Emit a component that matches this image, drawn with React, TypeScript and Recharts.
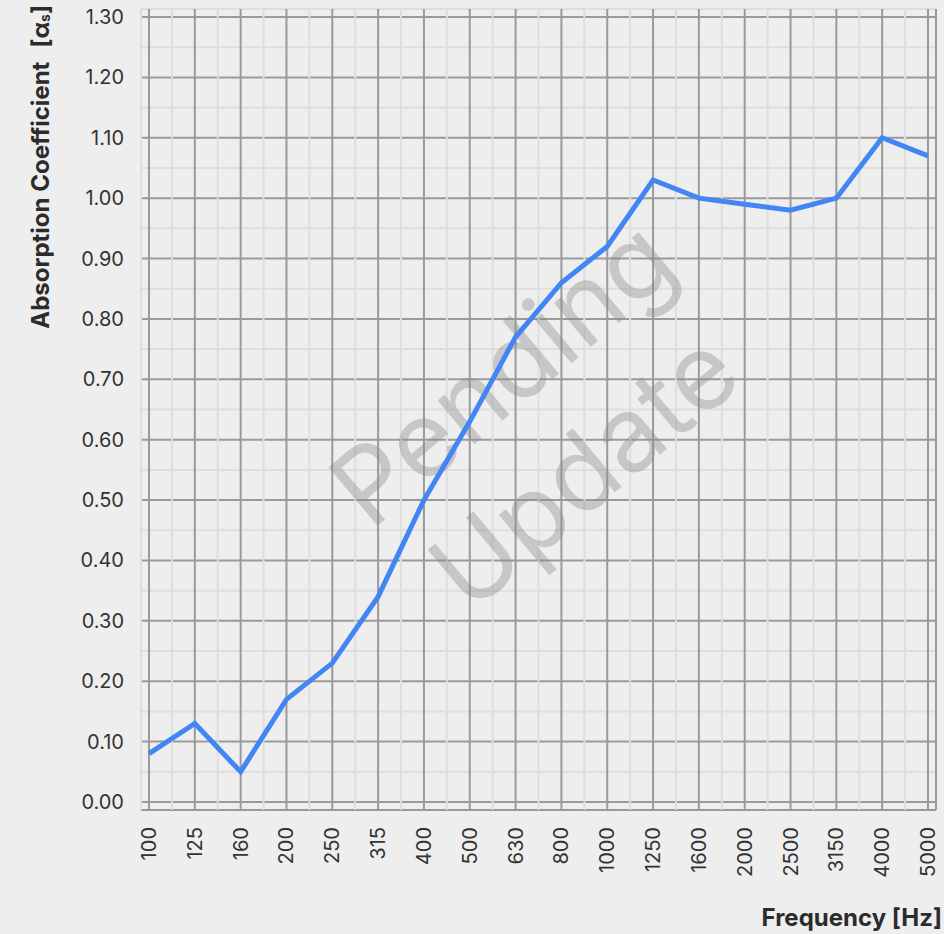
import React from 'react';
import { LineChart, Line, XAxis, YAxis, CartesianGrid, Label, ReferenceArea } from 'recharts';

const frequencies = ['100', '125', '160', '200', '250', '315', '400', '500', '630', '800', '1000', '1250', '1600', '2000', '2500', '3150', '4000', '5000'];
const absorption = [0.08, 0.13, 0.05, 0.17, 0.23, 0.34, 0.5, 0.63, 0.77, 0.86, 0.92, 1.03, 1.0, 0.99, 0.98, 1.0, 1.1, 1.07];
const yMajorTicks = [0, 0.1, 0.2, 0.3, 0.4, 0.5, 0.6, 0.7, 0.8, 0.9, 1.0, 1.1, 1.2, 1.3];
const yMinorStep = 0.05;
const xMinorStep = 0.5;

const data = frequencies.map((f, i) => ({ idx: i, freq: f, value: absorption[i] }));

const yTicks: number[] = [];
for (let i = 0; i <= Math.round(1.3 / yMinorStep); i++) yTicks.push(Math.round(i * yMinorStep * 100) / 100);
const xTicks: number[] = [];
for (let i = 0; i <= (frequencies.length - 1) / xMinorStep; i++) xTicks.push(i * xMinorStep);

const FONT = 'Inter, "Noto Sans", sans-serif';
const MAJOR = '#9a9a9a';
const MINOR = '#dedede';

const isMajorY = (v: number) => yMajorTicks.some((t) => Math.abs(t - v) < 1e-6);

const YTick = (props: any) => {
  const { x, y, payload } = props;
  if (!isMajorY(payload.value)) return <g />;
  return (
    <text x={x} y={y} textAnchor="end" dominantBaseline="central" fontFamily={FONT} fontSize={20} fill="#333">
      {payload.value.toFixed(2)}
    </text>
  );
};

const XTick = (props: any) => {
  const { x, y, payload } = props;
  if (!Number.isInteger(payload.value)) return <g />;
  return (
    <text x={x} y={y} transform={`rotate(-90, ${x}, ${y})`} textAnchor="end" dominantBaseline="central" fontFamily={FONT} fontSize={20} fill="#333">
      {frequencies[payload.value]}
    </text>
  );
};

const gridLine = (props: any) => {
  const { x1, y1, x2, y2, index } = props;
  const major = index % 2 === 0;
  return <line key={`l-${x1}-${y1}-${index}`} x1={x1} y1={y1} x2={x2} y2={y2} stroke={major ? MAJOR : MINOR} strokeWidth={2} />;
};

const XLabel = (props: any) => {
  const { viewBox } = props;
  return (
    <text x={viewBox.x + viewBox.width + 6} y={viewBox.y + viewBox.height - 17} textAnchor="end" dominantBaseline="central" fontFamily={FONT} fontSize={24} fontWeight={700} fill="#2b2b2b">
      Frequency [Hz]
    </text>
  );
};

const YLabel = () => {
  const cx = 40;
  const cy = 5;
  return (
    <text x={cx} y={cy} transform={`rotate(-90, ${cx}, ${cy})`} textAnchor="end" dominantBaseline="central" fontFamily={FONT} fontSize={24} fontWeight={700} fill="#2b2b2b">
      <tspan>Absorption Coefficient</tspan>
      <tspan dx={14}>[</tspan>
      <tspan>α</tspan>
      <tspan fontSize={14} dy={4}>s</tspan>
      <tspan dy={-4}>]</tspan>
    </text>
  );
};

const Watermark = (props: any) => {
  const { viewBox } = props;
  const cx = viewBox.x + viewBox.width / 2 + 28;
  const cy = viewBox.y + viewBox.height / 2 + 40;
  return (
    <text transform={`rotate(-40, ${cx}, ${cy})`} x={cx} y={cy} textAnchor="middle" fontFamily={FONT} fontSize={105} fill="rgba(140,140,140,0.4)">
      <tspan x={cx} y={cy - 63}>Pending</tspan>
      <tspan x={cx} y={cy + 64}>Update</tspan>
    </text>
  );
};

export default function App() {
  return (
    <div style={{ position: 'absolute', left: 0, top: 0, width: 944, height: 934, background: '#eeeeee' }}>
      <LineChart width={944} height={934} data={data} margin={{ top: 9, right: 8, bottom: 0, left: 0 }}>
        <CartesianGrid horizontal={gridLine} vertical={gridLine} />
        <XAxis
          dataKey="idx"
          type="number"
          domain={[0, frequencies.length - 1]}
          ticks={xTicks}
          interval={0}
          padding={{ left: 8, right: 8 }}
          axisLine={false}
          tickLine={false}
          tickSize={0}
          tickMargin={17}
          height={124}
          tick={<XTick />}
        >
          <Label content={<XLabel />} />
        </XAxis>
        <YAxis
          type="number"
          domain={[0, 1.3]}
          ticks={yTicks}
          interval={0}
          padding={{ top: 8, bottom: 8 }}
          axisLine={false}
          tickLine={false}
          tickSize={0}
          tickMargin={17}
          width={141}
          tick={<YTick />}
        >
          <Label content={<YLabel />} />
        </YAxis>
        <ReferenceArea x1={0} x2={frequencies.length - 1} y1={0} y2={1.3} fill="none" fillOpacity={0} stroke="none" label={<Watermark />} />
        <Line type="linear" dataKey="value" stroke="#4285f4" strokeWidth={5} dot={false} activeDot={false} isAnimationActive={false} />
      </LineChart>
    </div>
  );
}
